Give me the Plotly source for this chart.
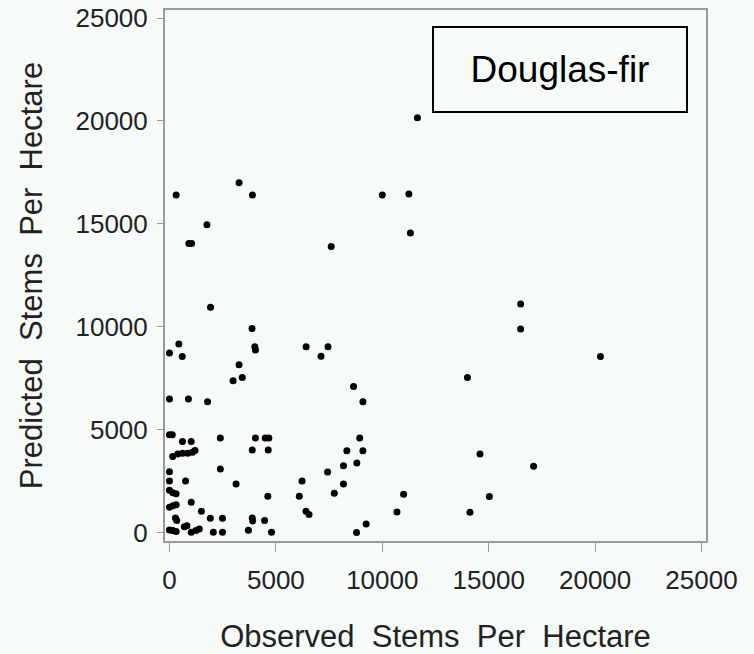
import plotly.graph_objects as go

# Observed (x) and predicted (y) stems per hectare
observed = [
    314, 3270, 3900, 10000, 11250, 11650, 1760, 910, 1040, 7600, 11320,
    1930, 3880, 4010, 4040, 440, 0, 600, 3270, 3420, 2990, 0, 890, 1790,
    6420, 7450, 7120, 8650, 9090, 16500, 16500, 20250, 14000, 14590, 17110,
    11000, 10690, 15030, 14120,
    0, 130, 610, 1020, 2390, 4040, 4500, 4670, 3890, 4640,
    150, 390, 620, 860, 1080, 1200, 0, 2390, 0, 755, 3130,
    0, 157, 310, 4620, 0, 157, 314, 1022, 1500, 1920, 2490, 280, 340,
    3890, 3910, 4470, 3710, 4795, 2060, 2490, 700, 820, 0, 157, 314,
    1022, 1240, 1400,
    8940, 8333, 9088, 8176, 8805, 7430, 6230, 8176, 7745, 6100, 6415,
    6557, 9240, 8790,
]
predicted = [
    16400, 17000, 16400, 16400, 16450, 20150, 14950, 14050, 14050, 13900, 14550,
    10950, 9920, 9030, 8870, 9160, 8720, 8560, 8150, 7540, 7380, 6490, 6490, 6350,
    9030, 9030, 8570, 7100, 6360, 11100, 9890, 8560, 7540, 3820, 3220,
    1860, 1000, 1750, 985,
    4750, 4750, 4420, 4420, 4590, 4590, 4590, 4590, 4015, 4015,
    3690, 3820, 3850, 3850, 3900, 3990, 2950, 3090, 2500, 2500, 2360,
    2060, 1940, 1880, 1770, 1230, 1300, 1350, 1470, 1030, 700, 700, 713, 590,
    713, 560, 583, 110, 10, 10, 10, 280, 330, 120, 97, 50,
    10, 97, 170,
    4590, 3980, 3980, 3250, 3380, 2940, 2510, 2362, 1910, 1766, 1036,
    874, 420, 0,
]

tick_vals = [0, 5000, 10000, 15000, 20000, 25000]
tick_text = ["0", "5000", "10000", "15000", "20000", "25000"]
species_label = "Douglas-fir"
x_title = "Observed  Stems  Per  Hectare"
y_title = "Predicted  Stems  Per  Hectare"

bg = "#f6fbf8"
axis_col = "#9a9a9a"
text_col = "#222222"
font_family = "Liberation Sans, Arial, sans-serif"

fig = go.Figure()
fig.add_trace(go.Scatter(
    x=observed, y=predicted, mode="markers",
    marker=dict(color="black", size=7, line=dict(width=0)),
    showlegend=False, hoverinfo="x+y",
))

axis_common = dict(
    showgrid=False, zeroline=False, showline=True, linecolor=axis_col,
    linewidth=2, mirror=True, ticks="outside", tickwidth=1,
    tickcolor=axis_col, tickvals=tick_vals, ticktext=tick_text,
    tickfont=dict(family=font_family, size=26, color=text_col),
    ticklabeloverflow="allow",
)

fig.update_xaxes(
    range=[-210, 25210], ticklen=9, ticklabelstandoff=6,
    title=dict(text=x_title, font=dict(family=font_family, size=31, color=text_col), standoff=31),
    **axis_common,
)
fig.update_yaxes(
    range=[-410, 25390], ticklen=6, ticklabelstandoff=4,
    title=dict(text=y_title, font=dict(family=font_family, size=31, color=text_col), standoff=24),
    **axis_common,
)

fig.add_annotation(
    xref="paper", yref="paper", x=0.731, y=0.8885,
    xanchor="center", yanchor="middle",
    text=species_label, showarrow=False,
    font=dict(family=font_family, size=37, color="black"),
    bordercolor="black", borderwidth=2, borderpad=0,
    width=252, height=83, bgcolor=bg,
)

fig.update_layout(
    width=754, height=654,
    margin=dict(l=165, r=48, t=10, b=113, autoexpand=False),
    paper_bgcolor=bg, plot_bgcolor=bg,
    font=dict(family=font_family, color=text_col),
)

# Remove the default page margin so the figure fills the window exactly
fig.write_html(
    "out.html",
    config={"displayModeBar": False},
    post_script="document.body.style.margin='0';document.body.style.background='" + bg + "';",
)
